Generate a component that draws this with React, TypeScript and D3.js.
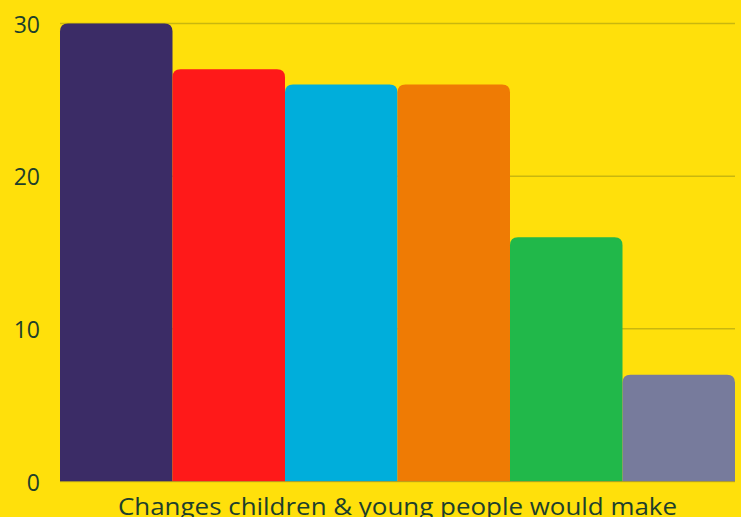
import React from "react";
import * as d3 from "d3";

const categories = ["A", "B", "C", "D", "E", "F"];
const values = [30, 27, 26, 26, 16, 7];
const barColors = ["#3B2C66", "#FF1919", "#00AEDB", "#EF7B04", "#21B84A", "#777B9C"];
const yTicks = [0, 10, 20, 30];
const xTitle = "Changes children & young people would make";

const W = 741;
const H = 517;
const margin = { left: 60, right: 6, top: 23.5, bottom: 35.5 };

function topRoundedRect(x: number, y: number, w: number, h: number, r: number) {
  const rr = Math.min(r, h, w / 2);
  return `M${x},${y + h}V${y + rr}Q${x},${y} ${x + rr},${y}H${x + w - rr}Q${x + w},${y} ${x + w},${y + rr}V${y + h}Z`;
}

export default function App() {
  const x = d3
    .scaleBand<string>()
    .domain(categories)
    .range([margin.left, W - margin.right])
    .padding(0);
  const y = d3.scaleLinear().domain([0, 30]).range([H - margin.bottom, margin.top]);
  const font = "'Open Sans', 'DejaVu Sans', sans-serif";
  const textColor = "#1D3F2C";

  return (
    <svg
      width={W}
      height={H}
      style={{ position: "absolute", left: 0, top: 0, display: "block" }}
    >
      <rect x={0} y={0} width={W} height={H} fill="#FFE00B" />
      {yTicks.map((t) => (
        <line
          key={`g${t}`}
          x1={margin.left}
          x2={W - margin.right}
          y1={y(t)}
          y2={y(t)}
          stroke="#C9B70F"
          strokeWidth={1.5}
        />
      ))}
      {categories.map((c, i) => {
        const x0 = x(c) as number;
        const y0 = y(values[i]);
        return (
          <path
            key={c}
            d={topRoundedRect(x0, y0, x.bandwidth(), y(0) - y0, 8)}
            fill={barColors[i]}
          />
        );
      })}
      <line
        x1={margin.left}
        x2={W - margin.right}
        y1={y(0)}
        y2={y(0)}
        stroke="#B8A020"
        strokeWidth={1}
        opacity={0.7}
      />
      {yTicks.map((t) => (
        <text
          key={`t${t}`}
          x={40}
          y={y(t)}
          textAnchor="end"
          dominantBaseline="central"
          fontFamily={font}
          fontSize={23}
          fontWeight={500}
          fill={textColor}
        >
          {t}
        </text>
      ))}
      <text
        x={(margin.left + W - margin.right) / 2}
        y={515}
        textAnchor="middle"
        fontFamily={font}
        fontSize={23}
        fontWeight={500}
        fill={textColor}
        textLength={559}
        lengthAdjust="spacingAndGlyphs"
      >
        {xTitle}
      </text>
    </svg>
  );
}
